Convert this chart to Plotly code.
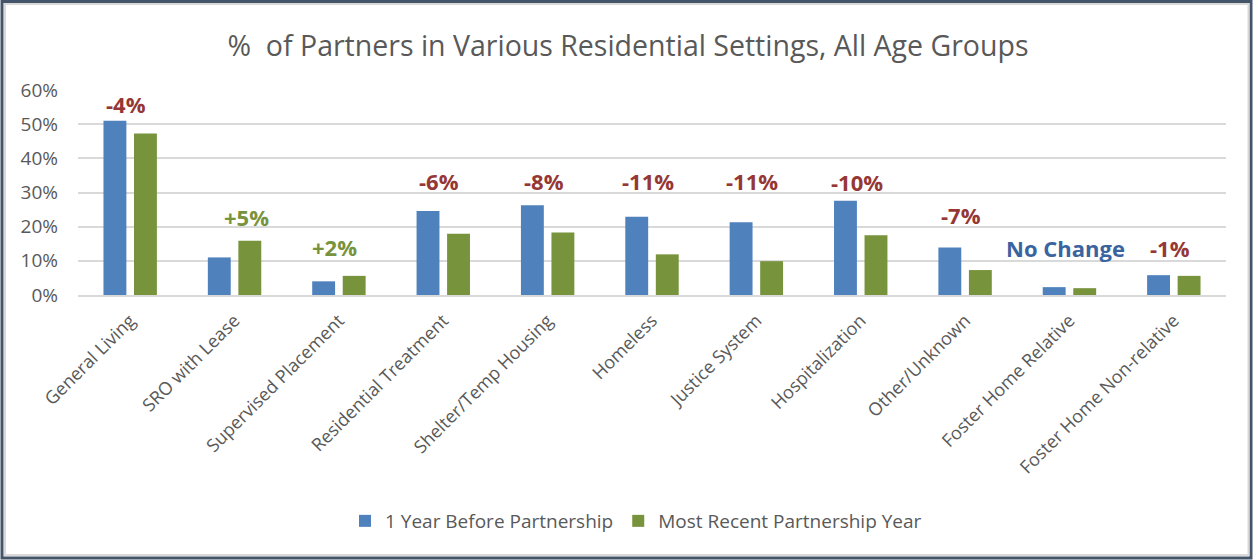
import plotly.graph_objects as go

categories = ["General Living", "SRO with Lease", "Supervised Placement", "Residential Treatment",
              "Shelter/Temp Housing", "Homeless", "Justice System", "Hospitalization",
              "Other/Unknown", "Foster Home Relative", "Foster Home Non-relative"]
before = [0.51, 0.11, 0.04, 0.246, 0.263, 0.229, 0.213, 0.276, 0.139, 0.023, 0.058]
recent = [0.473, 0.159, 0.056, 0.179, 0.183, 0.119, 0.099, 0.175, 0.073, 0.020, 0.056]
change_labels = ["-4%", "+5%", "+2%", "-6%", "-8%", "-11%", "-11%", "-10%", "-7%", "No Change", "-1%"]
label_heights = [0.56, 0.229, 0.141, 0.334, 0.334, 0.335, 0.335, 0.33, 0.234, 0.137, 0.138]
series_names = ["1 Year Before Partnership", "Most Recent Partnership Year"]
y_ticks = [0, 0.1, 0.2, 0.3, 0.4, 0.5, 0.6]

BLUE = "#4F81BD"
GREEN = "#77933C"
RED = "#953735"
NOCH = "#3A64A0"
GRAY = "#595959"
FONT = "Open Sans"

W, H = 1253, 560
ml, mr, mt, mb = 78, 27, 90, 265

fig = go.Figure()
fig.add_trace(go.Bar(x=categories, y=before, name=series_names[0], marker_color=BLUE,
                     marker_line_width=0))
fig.add_trace(go.Bar(x=categories, y=recent, name=series_names[1], marker_color=GREEN,
                     marker_line_width=0))

for i, (lab, h) in enumerate(zip(change_labels, label_heights)):
    if lab == "No Change":
        col = NOCH
    elif lab.startswith("+"):
        col = GREEN
    else:
        col = RED
    fig.add_annotation(x=categories[i], y=h, text="<b>" + lab + "</b>", showarrow=False,
                       font=dict(family=FONT, size=22, color=col),
                       xshift=12 if i == 1 else -4, yanchor="middle")

# frame around the whole image
pw = W - ml - mr
ph = H - mt - mb
def px_x(p):
    return (p - ml) / pw
def px_y(p):
    return (H - mb - p) / ph

fig.add_shape(type="rect", xref="paper", yref="paper",
              x0=px_x(2), x1=px_x(W - 2), y0=px_y(H - 2), y1=px_y(1.5),
              line=dict(color="#44546A", width=3), fillcolor="rgba(0,0,0,0)", layer="below")
fig.add_shape(type="rect", xref="paper", yref="paper",
              x0=px_x(5), x1=px_x(W - 4.5), y0=px_y(H - 5), y1=px_y(4),
              line=dict(color="#D9D9D9", width=2), fillcolor="rgba(0,0,0,0)", layer="below")

fig.update_layout(
    width=W, height=H,
    margin=dict(l=ml, r=mr, t=mt, b=mb, autoexpand=False),
    paper_bgcolor="white", plot_bgcolor="white",
    barmode="group", bargap=0.415, bargroupgap=0.25,
    title=dict(text="%  of Partners in Various Residential Settings, All Age Groups",
               x=px_x(628), xref="paper", xanchor="center", y=1 - 46 / H, yanchor="middle",
               font=dict(family=FONT, size=28.5, color=GRAY)),
    font=dict(family=FONT, color=GRAY),
    legend=dict(orientation="h", x=px_x(636), xanchor="center", xref="paper",
                y=px_y(521), yanchor="middle", font=dict(family=FONT, size=19, color=GRAY),
                itemwidth=30, traceorder="normal"),
    showlegend=True,
)
fig.update_yaxes(range=[0, 0.6], tickvals=y_ticks, tickformat=".0%",
                 gridcolor="#D9D9D9", gridwidth=2, zeroline=False,
                 showline=False, tickfont=dict(family=FONT, size=19, color=GRAY),
                 ticks="", ticklen=0, ticklabelstandoff=19)
fig.update_xaxes(tickangle=-45, tickfont=dict(family=FONT, size=18, color=GRAY),
                 showline=True, linecolor="#D9D9D9", linewidth=2, ticks="",
                 ticklabelstandoff=6)

fig.write_html("out.html", post_script="document.body.style.margin='0px';",
               config={"displayModeBar": False})
